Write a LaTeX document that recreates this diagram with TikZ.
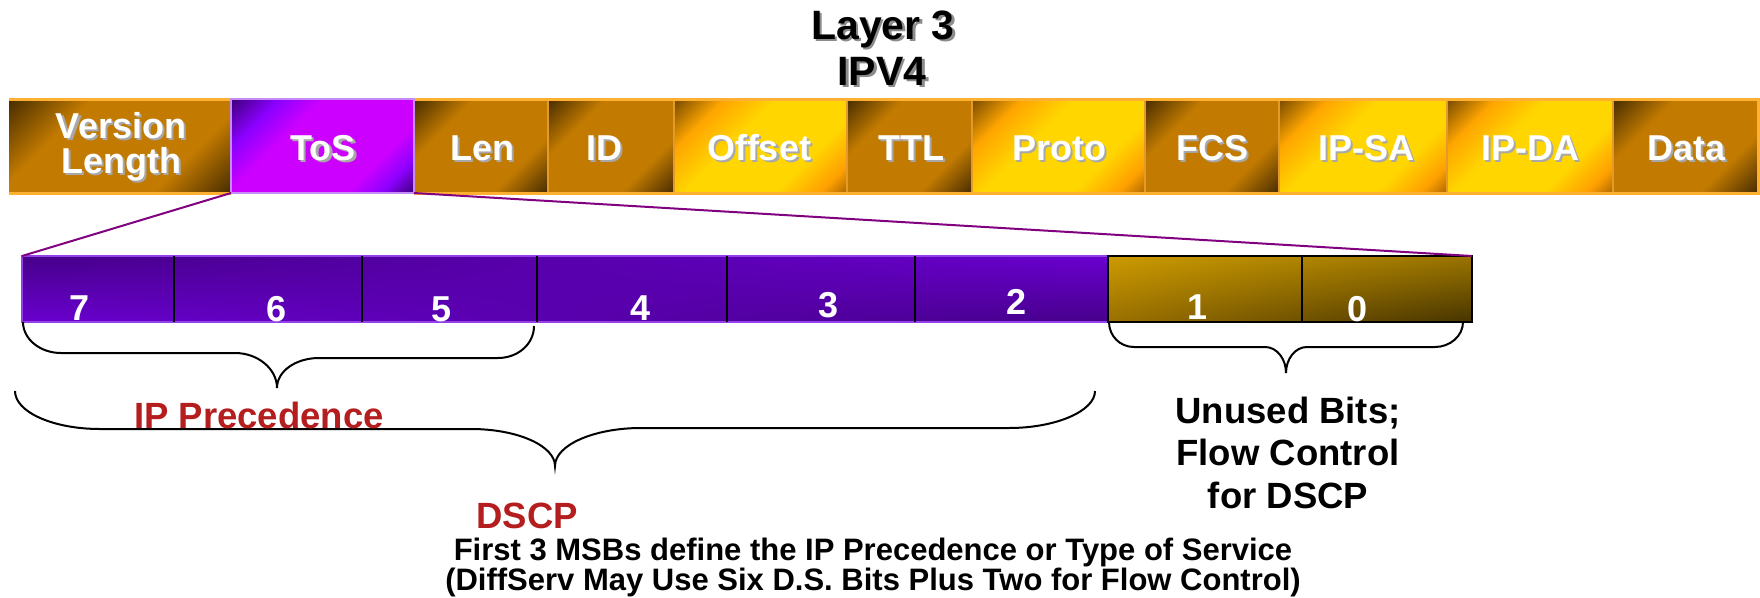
\documentclass[tikz,border=0pt]{standalone}
\usepackage{fontspec}
\setmainfont{Liberation Sans}
\usetikzlibrary{shadings}

% colours
\definecolor{rowedge}{HTML}{FFB030}
\definecolor{rowsep}{HTML}{E39A28}
\definecolor{tosedge}{HTML}{C58CF5}
\definecolor{linkpurple}{HTML}{800080}
\definecolor{baredge}{HTML}{9440E8}
\definecolor{bardark}{HTML}{46008A}
\definecolor{barlight}{HTML}{6A00D0}
\definecolor{goldul}{HTML}{CC9A00}
\definecolor{goldll}{HTML}{9A7000}
\definecolor{goldur}{HTML}{9A7400}
\definecolor{goldlr}{HTML}{463400}
\definecolor{labelred}{HTML}{B41E1E}
\definecolor{lblshadow}{HTML}{A8A8A8}
\definecolor{titleshadow}{HTML}{8C8C8C}

% diagonal gradients of the header fields
\pgfdeclarehorizontalshading{brownsh}{100bp}{%
  rgb(0bp)=(0.25,0.15,0); rgb(15bp)=(0.29,0.18,0);
  rgb(33bp)=(0.76,0.48,0); rgb(68bp)=(0.76,0.48,0);
  rgb(85bp)=(0.29,0.18,0); rgb(100bp)=(0.25,0.15,0)}
\pgfdeclarehorizontalshading{yellowsh}{100bp}{%
  rgb(0bp)=(0.40,0.25,0); rgb(15bp)=(0.48,0.30,0);
  rgb(28bp)=(1,0.65,0); rgb(42bp)=(1,0.84,0);
  rgb(66bp)=(1,0.84,0); rgb(78bp)=(1,0.63,0);
  rgb(85bp)=(0.70,0.42,0); rgb(100bp)=(0.6,0.36,0)}
\pgfdeclarehorizontalshading{tossh}{100bp}{%
  rgb(0bp)=(0.22,0,0.45); rgb(15bp)=(0.25,0,0.5);
  rgb(27bp)=(0.55,0,1); rgb(38bp)=(0.8,0,1);
  rgb(68bp)=(0.8,0,1); rgb(77bp)=(0.55,0,1);
  rgb(85bp)=(0.25,0,0.5); rgb(100bp)=(0.22,0,0.45)}

% text with a soft drop shadow
\newcommand\shadowtext[2][lblshadow]{\leavevmode\rlap{\kern2.5pt\raisebox{-2pt}[0pt][0pt]{\textcolor{#1}{#2}}}#2}

\begin{document}
\begin{tikzpicture}[x=1pt,y=-1pt,
  field/.style={anchor=north west, inner sep=0pt, outer sep=0pt,
    minimum height=94pt, shade, shading angle=-45},
  brownfield/.style={field, shading=brownsh},
  yellowfield/.style={field, shading=yellowsh},
  tosfield/.style={field, shading=tossh, draw=tosedge, line width=2.5pt},
  sep/.style={draw=rowsep, line width=2pt},
  lbl/.style={font=\bfseries\fontsize{36}{40}\selectfont, text=white,
    anchor=base, inner sep=0pt, outer sep=0pt},
  bitnum/.style={lbl},
  title/.style={font=\bfseries\fontsize{41}{46}\selectfont, text=black,
    anchor=base, inner sep=0pt, outer sep=0pt},
  redlbl/.style={font=\bfseries\fontsize{36.5}{42}\selectfont, text=labelred,
    anchor=base, inner sep=0pt, outer sep=0pt},
  note/.style={font=\bfseries\fontsize{36.5}{42}\selectfont, text=black,
    anchor=base, inner sep=0pt, outer sep=0pt},
  foot/.style={font=\bfseries\fontsize{31}{35}\selectfont, text=black,
    anchor=base, inner sep=0pt, outer sep=0pt},
  link/.style={draw=linkpurple, line width=2pt},
  brace/.style={draw=black, line width=2pt},
  divider/.style={draw=black, line width=2pt}]

\useasboundingbox (0,0) rectangle (1760,597);
\fill[white] (0,0) rectangle (1760,597);

% title
\node[title] (t1) at (883,39) {\shadowtext[titleshadow]{Layer 3}};
\node[title] (t2) at (882,85) {\shadowtext[titleshadow]{IPV4}};

% IPv4 header fields
\node[brownfield,  minimum width=222pt] (vl)    at (9,99) {};
\node[tosfield,    minimum width=183pt] (tos)   at (231,99) {};
\node[brownfield,  minimum width=134pt] (len)   at (414,99) {};
\node[brownfield,  minimum width=126pt] (id)    at (548,99) {};
\node[yellowfield, minimum width=173pt] (off)   at (674,99) {};
\node[brownfield,  minimum width=125pt] (ttl)   at (847,99) {};
\node[yellowfield, minimum width=173pt] (proto) at (972,99) {};
\node[brownfield,  minimum width=134pt] (fcs)   at (1145,99) {};
\node[yellowfield, minimum width=168pt] (sa)    at (1279,99) {};
\node[yellowfield, minimum width=166pt] (da)    at (1447,99) {};
\node[brownfield,  minimum width=145pt] (data)  at (1613,99) {};

\foreach \f in {len,id,off,ttl,proto,fcs,sa,da,data}
  \draw[sep] (\f.north west) -- (\f.south west);
\draw[draw=rowedge, line width=3pt] (vl.north west) -- (tos.north west)
  (tos.north east) -- (data.north east) -- (data.south east) -- (tos.south east)
  (tos.south west) -- (vl.south west) -- cycle;
\draw[draw=tosedge, line width=2.5pt] (tos.north west) rectangle (tos.south east);

% field labels
\node[lbl] (lv1) at (121,138) {\shadowtext{Version}};
\node[lbl] (lv2) at (121,173) {\shadowtext{Length}};
\node[lbl] (ltos)   at (323,160)  {\shadowtext{ToS}};
\node[lbl] (llen)   at (482,160)  {\shadowtext{Len}};
\node[lbl] (lid)    at (604,160)  {\shadowtext{ID}};
\node[lbl] (loff)   at (759,160)  {\shadowtext{Offset}};
\node[lbl] (lttl)   at (911,160)  {\shadowtext{TTL}};
\node[lbl] (lproto) at (1059,160) {\shadowtext{Proto}};
\node[lbl] (lfcs)   at (1212,160) {\shadowtext{FCS}};
\node[lbl] (lsa)    at (1366,160) {\shadowtext{IP-SA}};
\node[lbl] (lda)    at (1530,160) {\shadowtext{IP-DA}};
\node[lbl] (ldata)  at (1686,160) {\shadowtext{Data}};

% ToS byte, bit 7 to bit 0
\node[anchor=north west, inner sep=0pt, outer sep=0pt,
  minimum width=1086pt, minimum height=66pt,
  shade, shading=bilinear interpolation,
  upper left=bardark, lower left=barlight,
  upper right=barlight, lower right=bardark] (ds) at (22,256) {};
\node[anchor=north west, inner sep=0pt, outer sep=0pt,
  minimum width=364pt, minimum height=66pt,
  shade, shading=bilinear interpolation,
  upper left=goldul, lower left=goldll,
  upper right=goldur, lower right=goldlr] (cu) at (1108,256) {};

\draw[draw=baredge, line width=2pt] (ds.north west) rectangle (ds.south east);
\foreach \x in {174,362,537,727,915}
  \draw[divider] (\x,256) -- (\x,322);
\draw[divider] (cu.north west) rectangle (cu.south east);
\draw[divider] (1302,256) -- (1302,322);

\node[bitnum] (b7) at (80,320)   {7};
\node[bitnum] (b6) at (277,321)  {6};
\node[bitnum] (b5) at (442,321)  {5};
\node[bitnum] (b4) at (641,320)  {4};
\node[bitnum] (b3) at (828,317)  {3};
\node[bitnum] (b2) at (1016,314) {2};
\node[bitnum] (b1) at (1197,319) {1};
\node[bitnum] (b0) at (1357,321) {0};

% ToS expanded into its bits
\draw[link] (tos.south west) -- (ds.north west);
\draw[link] (tos.south east) -- (cu.north east);

% brace under the three precedence bits
\draw[brace] (23,322) .. controls (23,339) and (40,353) .. (61,353)
  -- (235,353) .. controls (258,353) and (277,369) .. (277,388)
  .. controls (277,371) and (296,358) .. (319,358)
  -- (498,358) .. controls (518,358) and (534,344) .. (534,326);

% brace under the six DS bits
\draw[brace] (15,391) .. controls (15,412) and (53,429) .. (100,429)
  -- (471,429) .. controls (518,429) and (555,446) .. (555,466)
  .. controls (555,445) and (594,428) .. (641,428)
  -- (1009,428) .. controls (1056,428) and (1095,411) .. (1095,391);

% brace under the two unused bits
\draw[brace] (1109,322) .. controls (1109,336) and (1120,347) .. (1134,347)
  -- (1265,347) .. controls (1277,347) and (1286,359) .. (1286,373)
  .. controls (1286,359) and (1295,347) .. (1307,347)
  -- (1435,347) .. controls (1450,347) and (1463,336) .. (1463,322);

% annotations
\node[redlbl] (prec) at (259,428) {IP Precedence};
\node[redlbl] (dscp) at (527,528) {DSCP};
\node[note] (u1) at (1288,423) {Unused Bits;};
\node[note] (u2) at (1288,465) {Flow Control};
\node[note] (u3) at (1288,508) {for DSCP};
\node[foot] (f1) at (873,560) {First 3 MSBs define the IP Precedence or Type of Service};
\node[foot] (f2) at (873,590) {(DiffServ May Use Six D.S. Bits Plus Two for Flow Control)};
\end{tikzpicture}
\end{document}
